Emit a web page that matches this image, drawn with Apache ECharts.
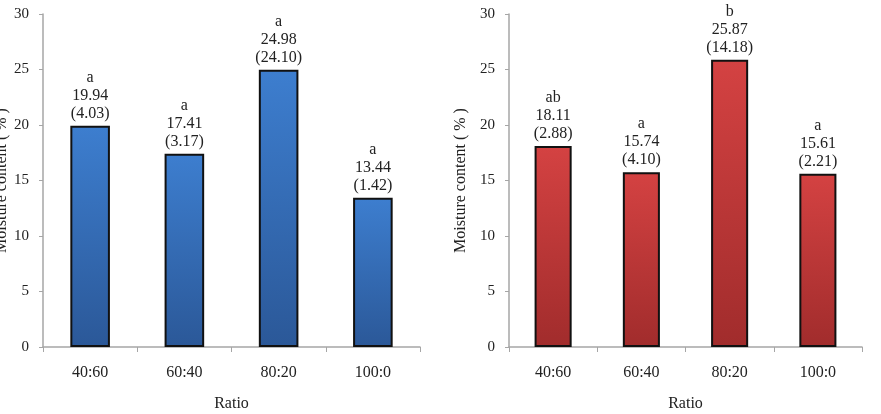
<!DOCTYPE html>
<html>
<head>
<meta charset="utf-8">
<script src="https://cdn.jsdelivr.net/npm/echarts@6/dist/echarts.min.js"></script>
<style>
html,body{margin:0;padding:0;background:#fff;}
#main{width:881px;height:414px;}
</style>
</head>
<body>
<div id="main"></div>
<script>
var ratios = ['40:60', '60:40', '80:20', '100:0'];
var yTicks = [0, 5, 10, 15, 20, 25, 30];

var leftMeans = [19.94, 17.41, 24.98, 13.44];
var leftSd = ['4.03', '3.17', '24.10', '1.42'];
var leftGroups = ['a', 'a', 'a', 'a'];

var rightMeans = [18.11, 15.74, 25.87, 15.61];
var rightSd = ['2.88', '4.10', '14.18', '2.21'];
var rightGroups = ['ab', 'a', 'b', 'a'];

var font = '"Liberation Serif", "Times New Roman", serif';
var axisGray = '#a6a6a6';

function makeX(idx) {
	return {
		type: 'category',
		gridIndex: idx,
		data: ratios,
		name: 'Ratio',
		nameLocation: 'middle',
		nameGap: 49,
		nameTextStyle: {fontFamily: font, fontSize: 16, color: '#222'},
		axisLine: {lineStyle: {color: axisGray, width: 1.5}},
		axisTick: {show: true, length: 5, lineStyle: {color: axisGray}},
		axisLabel: {fontFamily: font, fontSize: 16, color: '#222', margin: 18},
		splitLine: {show: false}
	};
}

function makeY(idx, gap) {
	return {
		type: 'value',
		gridIndex: idx,
		min: yTicks[0],
		max: yTicks[yTicks.length - 1],
		interval: 5,
		name: 'Moisture content ( % )',
		nameLocation: 'middle',
		nameRotate: 90,
		nameGap: gap,
		nameTextStyle: {fontFamily: font, fontSize: 16, color: '#222'},
		axisLine: {show: true, lineStyle: {color: axisGray, width: 1.5}},
		axisTick: {show: true, length: 4, lineStyle: {color: axisGray}},
		axisLabel: {fontFamily: font, fontSize: 15, color: '#222', margin: 14},
		splitLine: {show: false}
	};
}

function makeSeries(idx, means, sd, groups, top, bottom) {
	var data = [];
	for (var i = 0; i < means.length; i++) {
		data.push({value: means[i], grp: groups[i], sd: sd[i]});
	}
	return {
		type: 'bar',
		xAxisIndex: idx,
		yAxisIndex: idx,
		barWidth: '42%',
		data: data,
		itemStyle: {
			borderColor: '#111',
			borderWidth: 2,
			color: new echarts.graphic.LinearGradient(0, 0, 0, 1, [
				{offset: 0, color: top},
				{offset: 1, color: bottom}
			])
		},
		label: {
			show: true,
			position: 'top',
			distance: 3,
			fontFamily: font,
			fontSize: 16,
			lineHeight: 18,
			color: '#222',
			formatter: function (p) {
				return p.data.grp + '\n' + p.data.value.toFixed(2) + '\n(' + p.data.sd + ')';
			}
		}
	};
}

var myChart = echarts.init(document.getElementById('main'));
var options = {};
options.animation = false;
options.grid = [
	{left: 43, top: 14, width: 377, height: 333, outerBoundsMode: 'none', containLabel: false},
	{left: 509, top: 14, width: 353, height: 333, outerBoundsMode: 'none', containLabel: false}
];
options.xAxis = [makeX(0), makeX(1)];
options.yAxis = [makeY(0, 32), makeY(1, 40)];
options.series = [
	makeSeries(0, leftMeans, leftSd, leftGroups, '#3d7ecf', '#2b5898'),
	makeSeries(1, rightMeans, rightSd, rightGroups, '#d44242', '#a12c2c')
];
myChart.setOption(options);
</script>
</body>
</html>
